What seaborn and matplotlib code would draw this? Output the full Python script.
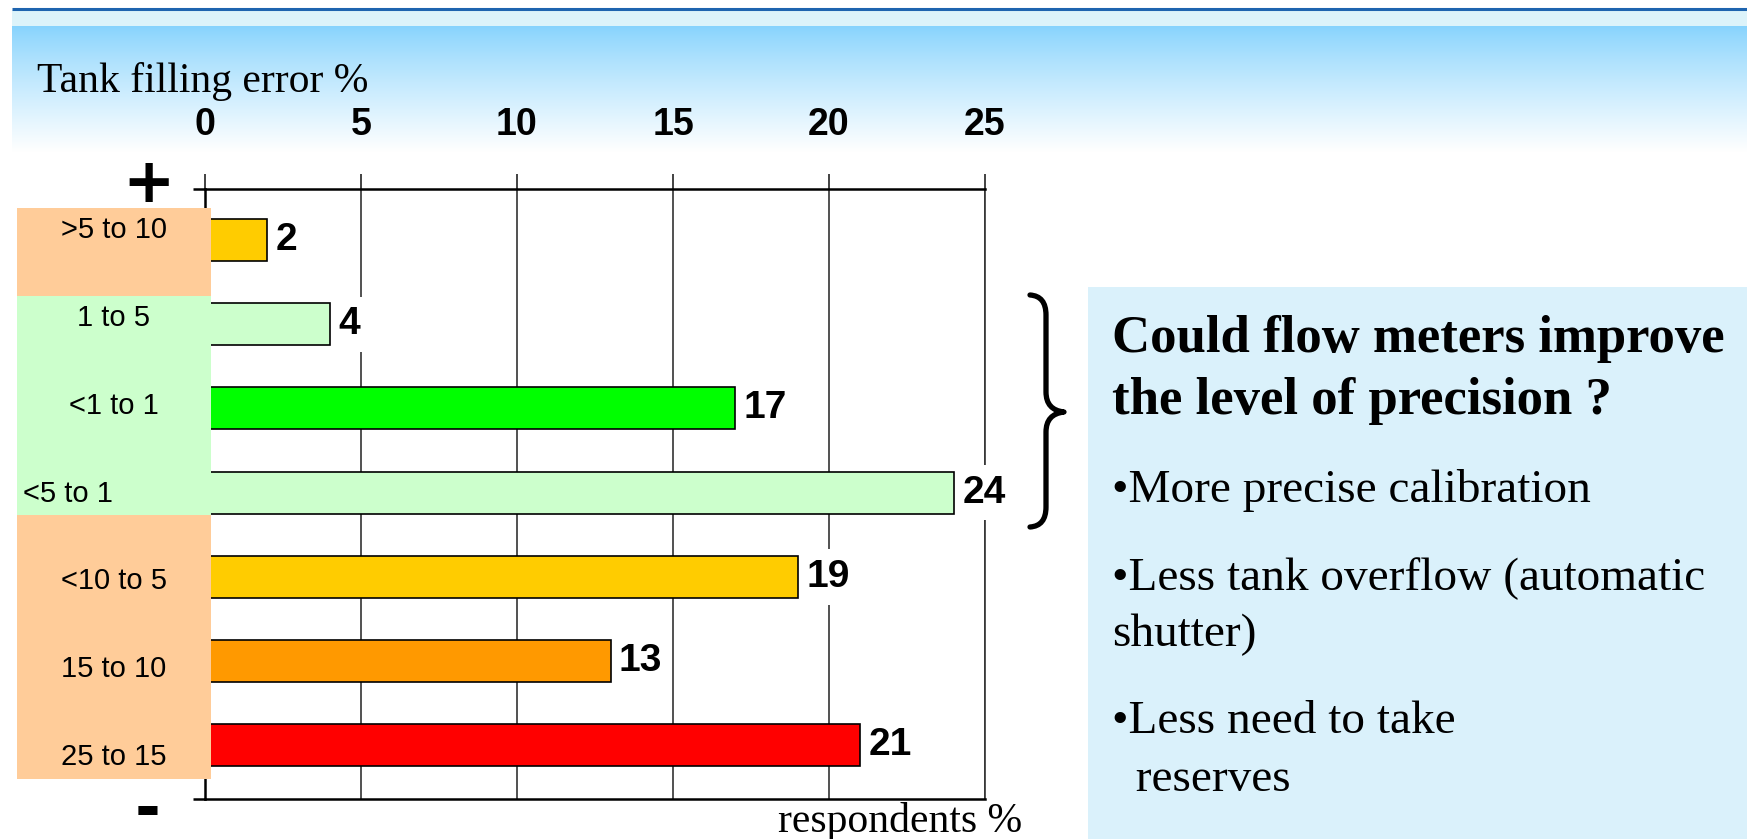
import numpy as np
import pandas as pd
import matplotlib
matplotlib.use("Agg")
import matplotlib.pyplot as plt
from matplotlib.patches import Rectangle, PathPatch
from matplotlib.path import Path
import seaborn as sns

# ---- data -------------------------------------------------------------
categories = [">5 to 10", "1 to 5", "<1 to 1", "<5 to 1",
              "<10 to 5", "15 to 10", "25 to 15"]
respondents = [2, 4, 17, 24, 19, 13, 21]
bar_colors = ["#FFCC00", "#CCFFCC", "#00FF00", "#CCFFCC",
              "#FFCC00", "#FF9900", "#FF0000"]
x_ticks = [0, 5, 10, 15, 20, 25]
band_colors = ["#FFCC99", "#CCFFCC", "#FFCC99"]
question_lines = ["Could flow meters improve", "the level of precision ?"]
bullet_lines = ["\u2022More precise calibration",
                "\u2022Less tank overflow (automatic",
                "shutter)",
                "\u2022Less need to take",
                "  reserves"]

# ---- style ------------------------------------------------------------
sns.set_theme(style="white")
plt.rcParams["font.family"] = ["Liberation Sans", "DejaVu Sans"]
plt.rcParams["text.color"] = "black"
plt.rcParams["axes.labelcolor"] = "black"
plt.rcParams["xtick.color"] = "black"
plt.rcParams["ytick.color"] = "black"
BOLDNUM = ["Liberation Sans", "DejaVu Sans"]
SERIF = ["Liberation Serif", "DejaVu Serif"]

W, H = 1747, 839
fig = plt.figure(figsize=(W / 100, H / 100), dpi=100, facecolor="white")

# ---- header band (pixel-space background) -----------------------------
bg = fig.add_axes([0, 0, 1, 1], zorder=-10)
bg.set_xlim(0, W)
bg.set_ylim(H, 0)
bg.axis("off")
t = np.linspace(0, 1, 256) ** 0.85
top = np.array([134, 211, 253]) / 255.0
grad = (top[None, :] * (1 - t[:, None]) + t[:, None])[:, None, :]
bg.imshow(grad, extent=(12, W, 152, 26), aspect="auto", interpolation="bilinear")
bg.add_patch(Rectangle((12, 10), W - 12, 16, color="#DCF3FA", lw=0))
bg.plot([12, W], [9, 9], color="#1E64AF", lw=2.2, solid_capstyle="butt")

# ---- bar chart ----------------------------------------------------------
ax = fig.add_axes([205 / W, 1 - 799 / H, 780 / W, 610 / H])
df = pd.DataFrame({"error": categories, "respondents": respondents})
sns.barplot(data=df, x="respondents", y="error", hue="error",
            palette=dict(zip(categories, bar_colors)), legend=False,
            orient="h", width=0.5, saturation=1, edgecolor="black",
            linewidth=1.2, ax=ax, zorder=4)

ax.set_xlim(0, 25)
ax.set_ylim(len(categories) - 0.36, -0.607)
ax.set_axisbelow(True)
ax.grid(axis="x", color="#333333", lw=1.2)
ax.grid(axis="y", visible=False)
for side in ("top", "bottom", "left"):
    ax.spines[side].set_color("black")
    ax.spines[side].set_linewidth(1.8)
ax.spines["right"].set_color("#333333")
ax.spines["right"].set_linewidth(1.2)

ax.xaxis.tick_top()
ax.set_xticks(x_ticks)
ax.tick_params(axis="x", which="both", direction="out", length=10.8,
               width=1.2, color="#222222", pad=22, labelsize=27,
               labelcolor="black", top=True, bottom=False)
for lab in ax.get_xticklabels():
    lab.set_fontfamily(BOLDNUM)
    lab.set_fontweight("bold")
ax.set_yticks([])
ax.set_xlabel("")
ax.set_ylabel("")

for cont in ax.containers:
    ax.bar_label(cont, padding=6, fontsize=28, fontweight="bold",
                 family=BOLDNUM, color="black", zorder=3.5,
                 bbox=dict(boxstyle="square,pad=0.25", fc="white", ec="none"))

# ---- overlay annotations (pixel space) --------------------------------
ov = fig.add_axes([0, 0, 1, 1], zorder=10)
ov.set_xlim(0, W)
ov.set_ylim(H, 0)
ov.axis("off")
ov.patch.set_alpha(0)

# short extensions of the top and bottom frame lines
for yy in (189, 799):
    ov.plot([193, 206], [yy, yy], color="black", lw=1.8, solid_capstyle="butt")

# coloured category panels
band_edges = [208, 296, 515, 779]
for c, y0, y1 in zip(band_colors, band_edges[:-1], band_edges[1:]):
    ov.add_patch(Rectangle((17, y0), 194, y1 - y0, color=c, lw=0))

label_y = np.linspace(230, 757, len(categories))
for name, yy in zip(categories, label_y):
    if name == "<5 to 1":
        ov.text(23, yy, name, ha="left", va="center", fontsize=21)
    else:
        ov.text(114, yy, name, ha="center", va="center", fontsize=21)

ov.text(149, 185, "+", ha="center", va="center", fontsize=45,
        fontweight="bold", family="DejaVu Sans")
ov.text(148, 812, "-", ha="center", va="center", fontsize=45,
        fontweight="bold", family="DejaVu Sans")

ov.text(37, 92, "Tank filling error %", ha="left", va="baseline",
        fontsize=30, family=SERIF)
ov.text(1022, 832, "respondents %", ha="right", va="baseline",
        fontsize=30, family=SERIF)

# curly brace grouping the central classes
verts = [(1030, 295), (1046, 296), (1046, 315),
         (1046, 392),
         (1046, 410), (1064, 412),
         (1046, 414), (1046, 432),
         (1046, 507),
         (1046, 526), (1030, 527)]
codes = [Path.MOVETO, Path.CURVE3, Path.CURVE3,
         Path.LINETO,
         Path.CURVE3, Path.CURVE3,
         Path.CURVE3, Path.CURVE3,
         Path.LINETO,
         Path.CURVE3, Path.CURVE3]
ov.add_patch(PathPatch(Path(verts, codes), fill=False, lw=3.8,
                       ec="black", capstyle="round", joinstyle="round"))

# side panel with the question
ov.add_patch(Rectangle((1088, 287), W - 1088, H - 287, color="#DAF1FB", lw=0))
for line, yy in zip(question_lines, [352, 414]):
    ov.text(1112, yy, line, ha="left", va="baseline", fontsize=38,
            fontweight="bold", family=SERIF)
for line, yy in zip(bullet_lines, [502, 590, 646, 733, 791]):
    ov.text(1112, yy, line, ha="left", va="baseline", fontsize=34,
            family=SERIF)

fig.savefig("out.png", dpi=100, facecolor="white")
